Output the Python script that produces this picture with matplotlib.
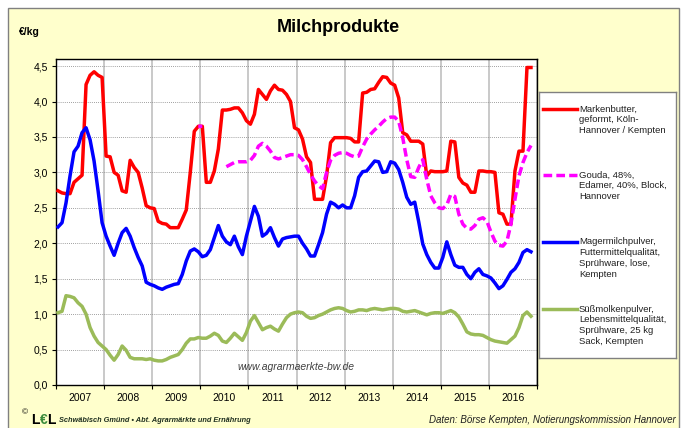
import numpy as np
import matplotlib
matplotlib.use("Agg")
import matplotlib.pyplot as plt
from matplotlib.patches import Rectangle

plt.rcParams['font.family'] = ['Liberation Sans', 'DejaVu Sans']

nan = np.nan

# monthly prices in EUR/kg, Jan 2007 .. Nov 2016
years = [str(y) for y in range(2007, 2017)]

butter = [2.74, 2.71, 2.70, 2.70, 2.86, 2.91, 2.96, 4.24, 4.37, 4.42,
          4.37, 4.34, 3.23, 3.22, 3.00, 2.96, 2.74, 2.72, 3.17, 3.07,
          3.00, 2.78, 2.53, 2.50, 2.49, 2.31, 2.28, 2.27, 2.22, 2.22,
          2.22, 2.34, 2.47, 3.00, 3.58, 3.65, 3.65, 2.86, 2.86, 3.02,
          3.33, 3.88, 3.88, 3.89, 3.91, 3.91, 3.84, 3.73, 3.68, 3.82,
          4.17, 4.10, 4.03, 4.15, 4.23, 4.17, 4.16, 4.10, 4.00, 3.63,
          3.60, 3.47, 3.22, 3.14, 2.62, 2.62, 2.62, 2.95, 3.42, 3.49,
          3.49, 3.49, 3.49, 3.48, 3.43, 3.43, 4.12, 4.13, 4.17, 4.18,
          4.27, 4.35, 4.34, 4.26, 4.23, 4.05, 3.56, 3.53, 3.44, 3.44,
          3.44, 3.40, 2.95, 3.02, 3.01, 3.01, 3.01, 3.02, 3.44, 3.43,
          2.93, 2.85, 2.82, 2.72, 2.72, 3.02, 3.02, 3.01, 3.01, 3.00,
          2.43, 2.41, 2.27, 2.27, 3.02, 3.30, 3.30, 4.48, 4.48]

gouda = [nan] * 35 + [3.65, 3.65] + [nan] * 5 + [
          3.08, 3.11, 3.14, 3.15, 3.15, 3.15, 3.17, 3.24,
          3.37, 3.41, 3.37, 3.30, 3.21, 3.19, 3.21, 3.23, 3.25, 3.25,
          3.24, 3.18, 3.08, 2.97, 2.88, 2.81, 2.77, 3.00, 3.17, 3.24,
          3.27, 3.28, 3.27, 3.24, 3.22, 3.23, 3.36, 3.47, 3.54, 3.60,
          3.65, 3.71, 3.76, 3.78, 3.78, 3.72, 3.49, 3.18, 2.94, 2.93,
          3.07, 3.18, 2.90, 2.67, 2.57, 2.50, 2.49, 2.54, 2.69, 2.66,
          2.41, 2.27, 2.21, 2.20, 2.25, 2.34, 2.36, 2.31, 2.16, 2.03,
          1.97, 1.96, 2.03, 2.27, 2.62, 2.95, 3.14, 3.28, 3.38]

magermilch = [2.23, 2.29, 2.57, 2.95, 3.29, 3.37, 3.56, 3.63, 3.46, 3.16,
              2.74, 2.29, 2.10, 1.96, 1.83, 2.00, 2.15, 2.21, 2.10, 1.94,
              1.80, 1.68, 1.45, 1.42, 1.40, 1.37, 1.35, 1.38, 1.40, 1.42,
              1.43, 1.56, 1.75, 1.89, 1.92, 1.88, 1.81, 1.83, 1.91, 2.08,
              2.25, 2.10, 2.02, 1.98, 2.10, 1.95, 1.84, 2.10, 2.31, 2.52,
              2.38, 2.10, 2.14, 2.22, 2.08, 1.96, 2.06, 2.08, 2.09, 2.10,
              2.10, 2.00, 1.92, 1.82, 1.82, 1.98, 2.15, 2.41, 2.58, 2.55,
              2.50, 2.54, 2.50, 2.50, 2.67, 2.93, 3.01, 3.02, 3.09, 3.16,
              3.15, 3.00, 3.01, 3.15, 3.13, 3.04, 2.86, 2.65, 2.55, 2.58,
              2.30, 1.99, 1.84, 1.73, 1.65, 1.65, 1.80, 2.02, 1.84, 1.69,
              1.66, 1.66, 1.56, 1.50, 1.59, 1.64, 1.56, 1.54, 1.51, 1.44,
              1.36, 1.40, 1.49, 1.59, 1.64, 1.73, 1.87, 1.91, 1.88]

molke = [1.02, 1.04, 1.26, 1.25, 1.23, 1.16, 1.11, 1.00, 0.81, 0.69,
         0.60, 0.55, 0.50, 0.42, 0.35, 0.43, 0.55, 0.49, 0.39, 0.37,
         0.37, 0.37, 0.36, 0.37, 0.35, 0.34, 0.34, 0.36, 0.39, 0.41,
         0.43, 0.50, 0.59, 0.65, 0.65, 0.67, 0.66, 0.66, 0.69, 0.73,
         0.70, 0.62, 0.60, 0.66, 0.73, 0.68, 0.63, 0.74, 0.90, 0.98,
         0.88, 0.78, 0.81, 0.83, 0.79, 0.76, 0.86, 0.95, 1.00, 1.02,
         1.03, 1.02, 0.97, 0.94, 0.95, 0.98, 1.00, 1.03, 1.06, 1.08,
         1.09, 1.08, 1.05, 1.03, 1.04, 1.06, 1.06, 1.05, 1.07, 1.08,
         1.07, 1.06, 1.07, 1.08, 1.08, 1.07, 1.04, 1.03, 1.04, 1.05,
         1.03, 1.01, 0.99, 1.01, 1.02, 1.02, 1.01, 1.03, 1.05, 1.02,
         0.96, 0.86, 0.75, 0.72, 0.71, 0.71, 0.70, 0.67, 0.64, 0.62,
         0.61, 0.60, 0.59, 0.64, 0.69, 0.81, 0.98, 1.03, 0.97]

labels = ["Markenbutter,\ngeformt, Köln-\nHannover / Kempten",
          "Gouda, 48%,\nEdamer, 40%, Block,\nHannover",
          "Magermilchpulver,\nFuttermittelqualität,\nSprühware, lose,\nKempten",
          "Süßmolkenpulver,\nLebensmittelqualität,\nSprühware, 25 kg\nSack, Kempten"]

series = [butter, gouda, magermilch, molke]
colors = ['#FF0000', '#FF00FF', '#0000FF', '#9BBB59']
styles = ['-', (0, (2.5, 1.2)), '-', '-']

W, H = 681, 428
fig = plt.figure(figsize=(W / 100, H / 100), dpi=100)
fig.patch.set_facecolor('white')
fig.patches.append(Rectangle((8 / W, -0.01), 671 / W, 1 - 8 / H + 0.01,
                             transform=fig.transFigure, facecolor='#FFFFCC',
                             edgecolor='#808080', lw=1, zorder=-10))

ax = fig.add_axes([56 / W, 1 - 385 / H, 481 / W, 326 / H])
ax.set_facecolor('white')

for vals, c, ls in zip(series, colors, styles):
    x = np.arange(len(vals)) + 0.5
    ax.plot(x, vals, color=c, ls=ls, lw=2.5, zorder=3)

ax.set_xlim(0, 120)
ax.set_ylim(0, 4.6)

yt = np.arange(0, 4.51, 0.5)
ax.set_yticks(yt)
ax.set_yticklabels([f"{v:.1f}".replace('.', ',') for v in yt], fontsize=7.5)
ax.set_xticks(np.arange(0, 121, 12))
ax.set_xticklabels([])
ax.set_xticks(np.arange(6, 120, 12), minor=True)
ax.set_xticklabels(years, minor=True, fontsize=7.5)
ax.tick_params(axis='x', which='minor', length=0, pad=6)
ax.tick_params(axis='both', which='major', length=3, width=0.8, color='black')
ax.tick_params(axis='y', pad=3)

ax.yaxis.grid(True, color='#808080', ls=(0, (1, 1.5)), lw=0.6, zorder=1)
ax.xaxis.grid(True, which='major', color='#C0C0C0', lw=1.2, zorder=1)
ax.set_axisbelow(True)
for s in ax.spines.values():
    s.set_color('black')
    s.set_linewidth(1)

ax.text(0.499, 0.055, 'www.agrarmaerkte-bw.de', transform=ax.transAxes,
        ha='center', va='center', fontsize=7.5, style='italic', color='#404040')

# title and unit
fig.text(338 / W, 1 - 28 / H, 'Milchprodukte', ha='center', va='center',
         fontsize=13, fontweight='bold')
fig.text(19 / W, 1 - 32 / H, '€/kg', ha='left', va='center',
         fontsize=7.5, fontweight='bold')

# legend box
lax = fig.add_axes([539 / W, 1 - 358 / H, 137 / W, 266 / H])
lax.set_xlim(0, 137)
lax.set_ylim(266, 0)
lax.set_xticks([])
lax.set_yticks([])
lax.set_facecolor('white')
for s in lax.spines.values():
    s.set_color('#808080')
    s.set_linewidth(1)

entry_y = [17, 83, 150, 217]
for y0, lab, c, ls in zip(entry_y, labels, colors, styles):
    lax.plot([4, 38], [y0, y0], color=c, ls=ls, lw=2.5)
    for i, line in enumerate(lab.split('\n')):
        lax.text(40, y0 + i * 10.7, line, ha='left', va='center',
                 fontsize=6.8, color='#202020')

# footer
fig.text(22 / W, 1 - 413 / H, '©', fontsize=6, ha='left', va='center')
fig.text(31 / W, 1 - 420 / H, 'L', fontsize=10, fontweight='bold', ha='left', va='center')
fig.text(39.5 / W, 1 - 420 / H, '€', fontsize=10, fontweight='bold', ha='left', va='center',
         color='#3C8C3C')
fig.text(47.5 / W, 1 - 420 / H, 'L', fontsize=10, fontweight='bold', ha='left', va='center')
fig.text(59 / W, 1 - 421 / H, 'Schwäbisch Gmünd • Abt. Agrarmärkte und Ernährung',
         fontsize=5.3, fontweight='bold', style='italic', ha='left', va='center',
         color='#203020')
fig.text(676 / W, 1 - 420 / H, 'Daten: Börse Kempten, Notierungskommission Hannover',
         fontsize=7, style='italic', ha='right', va='center', color='#202020')

fig.savefig('out.png', dpi=100)
